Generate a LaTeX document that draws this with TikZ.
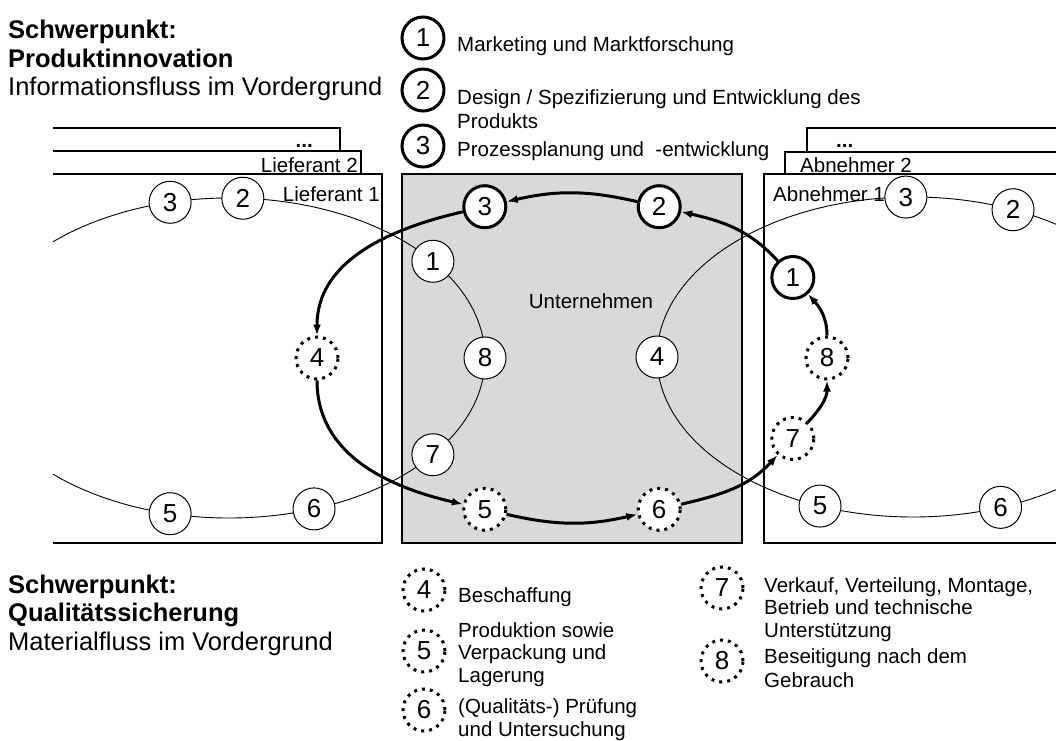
\documentclass[tikz,border=0pt]{standalone}
\usepackage{fontspec}
\setmainfont{Liberation Sans}
\usetikzlibrary{arrows.meta}

\definecolor{firmgray}{RGB}{217,217,217}
\newcommand{\smalltxt}{\fontsize{20.5}{22.5}\selectfont}
\newcommand{\bigtxt}{\fontsize{25.5}{28.5}\selectfont}
\newcommand{\numtxt}{\fontsize{26}{26}\selectfont}
\newcommand{\txtblock}[1]{\begin{tabular}[t]{@{}l@{}}#1\end{tabular}}

\tikzset{
  stage/.style={circle, draw, fill=white, inner sep=0pt, font=\numtxt},
  plainst/.style={stage, line width=1pt, minimum size=42pt},
  infost/.style={stage, line width=3pt, minimum size=42pt},
  matst/.style={stage, line width=3pt, minimum size=42pt, dash pattern=on 3pt off 5pt},
  flow/.style={line width=3pt, -{Latex[length=11pt,width=8pt]}},
  orbit/.style={line width=0.9pt},
  party/.style={draw, line width=1.2pt, fill=white},
  firm/.style={draw, line width=1.2pt, fill=firmgray},
  lbl/.style={font=\smalltxt, inner sep=0pt},
  biglbl/.style={font=\bigtxt, inner sep=0pt, anchor=base west},
}

\begin{document}
\begin{tikzpicture}[x=1pt, y=1pt]
\useasboundingbox (0,0) rectangle (1056,740);

% supplier and customer stacks, the company, and the two thin cycles
\begin{scope}
  \clip (53,0) rectangle (1056,740);
  \path[party] (40,197) rectangle (340,612);
  \path[party] (40,197) rectangle (361,589);
  \path[party] (40,197) rectangle (382,566);
  \path[party] (807,197) rectangle (1070,612);
  \path[party] (785,197) rectangle (1070,588);
  \path[party] (764,197) rectangle (1070,566);
  \path[firm] (402,197) rectangle (742,566);
  \draw[orbit] (229,382) ellipse [x radius=256, y radius=160];
  \draw[orbit] (913,383) ellipse [x radius=256, y radius=160];
\end{scope}

% box labels
\node[lbl, font=\smalltxt\bfseries, anchor=base east] (ldots) at (313,592) {...};
\node[lbl, anchor=base east] (lief2) at (358,567) {Lieferant 2};
\node[lbl, anchor=base east] (lief1) at (380,538) {Lieferant 1};
\node[lbl, font=\smalltxt\bfseries, anchor=base west] (adots) at (836,592) {...};
\node[lbl, anchor=base west] (abn2) at (800,567) {Abnehmer 2};
\node[lbl, anchor=base west] (abn1) at (773,538) {Abnehmer 1};
\node[lbl, anchor=base] (firmname) at (591,432) {Unternehmen};

% supplier cycle
\node[plainst] (L3) at ({229+256*cos(103.3)},{382+160*sin(103.3)}) {3};
\node[plainst] (L2) at ({229+256*cos(86.9)},{382+160*sin(86.9)}) {2};
\node[plainst] (L6) at ({229+256*cos(-70.6)},{382+160*sin(-70.6)}) {6};
\node[plainst] (L5) at ({229+256*cos(-103.3)},{382+160*sin(-103.3)}) {5};
\node[plainst] (U1) at ({229+256*cos(37.2)},{382+160*sin(37.2)}) {1};
\node[plainst] (U8) at (485,382) {8};
\node[plainst] (U7) at ({229+256*cos(-37.2)},{382+160*sin(-37.2)}) {7};

% customer cycle
\node[plainst] (U4) at (657,383) {4};
\node[plainst] (R3) at ({913+256*cos(91.6)},{383+160*sin(91.6)}) {3};
\node[plainst] (R2) at ({913+256*cos(67)},{383+160*sin(67)}) {2};
\node[plainst] (R5) at ({913+256*cos(-111.3)},{383+160*sin(-111.3)}) {5};
\node[plainst] (R6) at ({913+256*cos(-70)},{383+160*sin(-70)}) {6};

% main cycle through supplier, company and customer
\node[infost] (B3) at ({572+255*cos(110)},{382+161*sin(110)}) {3};
\node[infost] (B2) at ({572+255*cos(70)},{382+161*sin(70)}) {2};
\node[infost] (B1) at ({572+255*cos(30)},{382+161*sin(30)}) {1};
\node[matst]  (B8) at ({572+255*cos(0)},{382+161*sin(0)}) {8};
\node[matst]  (B7) at ({572+255*cos(-30)},{382+161*sin(-30)}) {7};
\node[matst]  (B6) at ({572+255*cos(-70)},{382+161*sin(-70)}) {6};
\node[matst]  (B5) at ({572+255*cos(-110)},{382+161*sin(-110)}) {5};
\node[matst]  (B4) at ({572+255*cos(180)},{382+161*sin(180)}) {4};

\draw[flow] (B2) to[out=167, in=13] (B3);
\draw[flow] (B3) to[out=193, in=90] (B4);
\draw[flow] (B4) to[out=270, in=167] (B5);
\draw[flow] (B5) to[out=347, in=193] (B6);
\draw[flow] (B6) to[out=13, in=227.5] (B7);
\draw[flow] (B7) to[out=47.5, in=270] (B8);
\draw[flow] (B8) to[out=90, in=312.5] (B1);
\draw[flow] (B1) to[out=132.5, in=347] (B2);

% headings
\node[biglbl] (headtop) at (8,701)
  {\txtblock{\textbf{Schwerpunkt:}\\ \textbf{Produktinnovation}\\ Informationsfluss im Vordergrund}};
\node[biglbl] (headbot) at (8,147)
  {\txtblock{\textbf{Schwerpunkt:}\\ \textbf{Qualitätssicherung}\\ Materialfluss im Vordergrund}};

% legend: information flow
\node[infost] (k1) at (423,702) {1};
\node[infost] (k2) at (423,650) {2};
\node[infost] (k3) at (423,594) {3};
\node[lbl, anchor=base west] (t1) at (457,688) {Marketing und Marktforschung};
\node[lbl, anchor=base west] (t2) at (457,635)
  {\txtblock{Design / Spezifizierung und Entwicklung des\\[1.5pt] Produkts}};
\node[lbl, anchor=base west] (t3) at (457,583) {Prozessplanung und~ -entwicklung};

% legend: material flow
\node[matst] (k4) at (424,150) {4};
\node[matst] (k5) at (424,89) {5};
\node[matst] (k6) at (424,30) {6};
\node[matst] (k7) at (722,152) {7};
\node[matst] (k8) at (722,79) {8};
\node[lbl, anchor=base west] (t4) at (458,138) {Beschaffung};
\node[lbl, anchor=base west] (t5) at (458,103)
  {\txtblock{Produktion sowie\\ Verpackung und\\ Lagerung}};
\node[lbl, anchor=base west] (t6) at (458,26.5)
  {\txtblock{(Qualitäts-) Prüfung\\ und Untersuchung}};
\node[lbl, anchor=base west] (t7) at (764,148)
  {\txtblock{Verkauf, Verteilung, Montage,\\ Betrieb und technische\\ Unterstützung}};
\node[lbl, anchor=base west] (t8) at (764,77)
  {\txtblock{Beseitigung nach dem\\[2pt] Gebrauch}};
\end{tikzpicture}
\end{document}
